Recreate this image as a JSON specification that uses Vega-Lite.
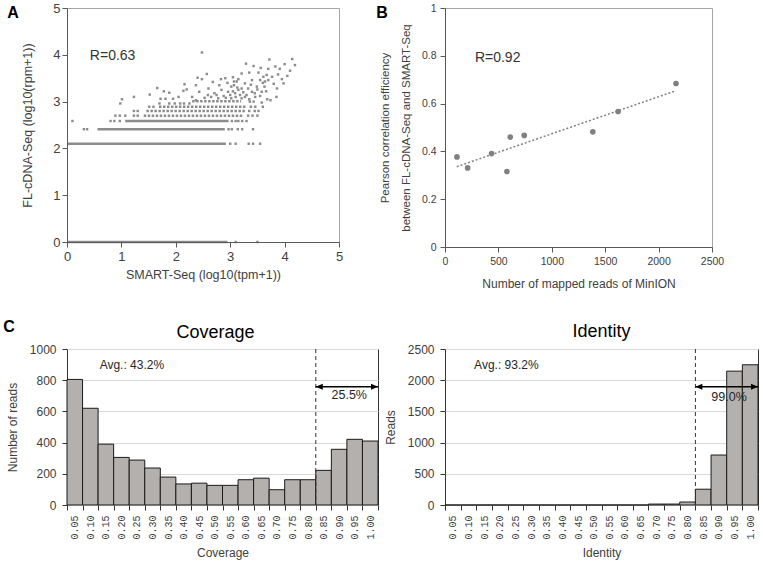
{
  "$schema": "https://vega.github.io/schema/vega-lite/v6.json",
  "padding": {"left": 2, "top": 1, "right": 2, "bottom": 2},
  "background": "white",
  "config": {
    "font": "Liberation Sans",
    "view": {"stroke": null},
    "axis": {"titleFontWeight": "normal", "labelColor": "#404040", "titleColor": "#404040", "domainColor": "#595959", "tickColor": "#595959", "grid": false, "labelFlush": false, "labelOverlap": false},
    "title": {"fontWeight": "normal", "color": "#000000"}
  },
  "datasets": {
    "aRuns": [
      {"x0": 0, "x1": 2.95, "y": 0},
      {"x0": 0, "x1": 2.92, "y": 2.1},
      {"x0": 0.56, "x1": 2.9, "y": 2.41},
      {"x0": 1.07, "x1": 2.97, "y": 2.585}
    ],
    "aDots": [
      {"x0": 1.41, "x1": 3.25, "y": 2.7},
      {"x0": 1.46, "x1": 3.27, "y": 2.8},
      {"x0": 1.69, "x1": 3.3, "y": 2.89},
      {"x0": 2.3, "x1": 3.2, "y": 3.01}
    ],
    "aPts": [
      {"x": 3.1, "y": 0}, {"x": 3.5, "y": 0},
      {"x": 3.0, "y": 2.1}, {"x": 3.1, "y": 2.1}, {"x": 3.34, "y": 2.1}, {"x": 3.42, "y": 2.1}, {"x": 3.55, "y": 2.1},
      {"x": 0.31, "y": 2.41}, {"x": 0.37, "y": 2.41}, {"x": 2.97, "y": 2.41}, {"x": 3.03, "y": 2.41}, {"x": 3.14, "y": 2.41}, {"x": 3.22, "y": 2.41}, {"x": 3.42, "y": 2.41},
      {"x": 0.1, "y": 2.585}, {"x": 0.8, "y": 2.585}, {"x": 0.87, "y": 2.585}, {"x": 0.97, "y": 2.585}, {"x": 3.03, "y": 2.585}, {"x": 3.1, "y": 2.585}, {"x": 3.15, "y": 2.585}, {"x": 3.22, "y": 2.585}, {"x": 3.3, "y": 2.585},
      {"x": 0.89, "y": 2.7}, {"x": 0.97, "y": 2.7}, {"x": 1.07, "y": 2.7}, {"x": 1.23, "y": 2.7}, {"x": 1.3, "y": 2.7}, {"x": 3.33, "y": 2.7}, {"x": 3.41, "y": 2.7},
      {"x": 1.23, "y": 2.8}, {"x": 1.3, "y": 2.8}, {"x": 3.35, "y": 2.8}, {"x": 3.45, "y": 2.8},
      {"x": 1.51, "y": 2.89}, {"x": 1.59, "y": 2.89}, {"x": 3.38, "y": 2.89}, {"x": 3.46, "y": 2.89}, {"x": 3.6, "y": 2.89},
      {"x": 1.7, "y": 2.96}, {"x": 1.88, "y": 2.96}, {"x": 1.98, "y": 2.96}, {"x": 2.08, "y": 2.96}, {"x": 2.15, "y": 2.96}, {"x": 2.25, "y": 2.96},
      {"x": 0.98, "y": 2.96}, {"x": 1.01, "y": 3.05}, {"x": 1.23, "y": 3.1}, {"x": 1.52, "y": 3.15}, {"x": 1.66, "y": 3.29}, {"x": 1.78, "y": 3.22}, {"x": 1.88, "y": 3.19}, {"x": 2.16, "y": 3.37}, {"x": 2.14, "y": 3.23}, {"x": 2.4, "y": 3.51}, {"x": 1.72, "y": 3.06}, {"x": 1.81, "y": 3.06}, {"x": 1.95, "y": 3.06}, {"x": 2.05, "y": 3.1}, {"x": 2.2, "y": 3.26}, {"x": 2.3, "y": 3.1}, {"x": 2.37, "y": 3.35},
      {"x": 2.48, "y": 4.05}, {"x": 2.57, "y": 3.59}, {"x": 2.48, "y": 3.48}, {"x": 2.68, "y": 3.42}, {"x": 2.83, "y": 3.48}, {"x": 2.91, "y": 3.5}, {"x": 3.05, "y": 3.52}, {"x": 3.07, "y": 3.43}, {"x": 3.07, "y": 3.35}, {"x": 3.21, "y": 3.6}, {"x": 3.29, "y": 3.81}, {"x": 3.43, "y": 3.76}, {"x": 3.52, "y": 3.62}, {"x": 3.61, "y": 3.53}, {"x": 3.67, "y": 3.57}, {"x": 3.72, "y": 3.9}, {"x": 3.83, "y": 3.75}, {"x": 3.91, "y": 3.7}, {"x": 4.0, "y": 3.8}, {"x": 4.14, "y": 3.91}, {"x": 4.19, "y": 3.78}, {"x": 4.05, "y": 3.55}, {"x": 3.86, "y": 3.28}, {"x": 3.98, "y": 3.39}, {"x": 3.77, "y": 3.53}, {"x": 3.74, "y": 3.03}, {"x": 3.63, "y": 3.32}, {"x": 3.58, "y": 3.21}, {"x": 3.46, "y": 3.1}, {"x": 3.43, "y": 3.0}, {"x": 3.27, "y": 3.39}, {"x": 3.33, "y": 3.28}, {"x": 3.15, "y": 3.25}, {"x": 3.09, "y": 3.18}, {"x": 2.96, "y": 3.21}, {"x": 2.84, "y": 3.25}, {"x": 2.71, "y": 3.18}, {"x": 2.59, "y": 3.14}, {"x": 2.43, "y": 3.21}, {"x": 2.37, "y": 3.03}, {"x": 2.53, "y": 3.08}, {"x": 2.78, "y": 3.07}, {"x": 3.02, "y": 3.07}, {"x": 3.21, "y": 3.07}, {"x": 3.3, "y": 3.14}, {"x": 3.55, "y": 3.46}, {"x": 3.64, "y": 3.43}, {"x": 3.49, "y": 3.32}, {"x": 3.4, "y": 3.21}, {"x": 3.21, "y": 3.28}, {"x": 3.02, "y": 3.32}, {"x": 3.12, "y": 3.43},
      {"x": 2.65, "y": 3.1}, {"x": 2.75, "y": 3.14}, {"x": 2.88, "y": 3.12}, {"x": 2.92, "y": 3.08}, {"x": 3.0, "y": 3.14}, {"x": 3.05, "y": 3.22}, {"x": 3.1, "y": 3.1}, {"x": 3.13, "y": 3.3}, {"x": 3.18, "y": 3.14}, {"x": 3.24, "y": 3.2}, {"x": 3.27, "y": 3.1}, {"x": 3.35, "y": 3.05}, {"x": 3.38, "y": 3.36}, {"x": 3.45, "y": 3.18}, {"x": 3.5, "y": 3.26}, {"x": 3.55, "y": 3.12}, {"x": 3.6, "y": 3.4}, {"x": 3.66, "y": 3.22}, {"x": 3.7, "y": 3.46}, {"x": 3.8, "y": 3.38}, {"x": 3.88, "y": 3.58}, {"x": 3.95, "y": 3.48}, {"x": 4.1, "y": 3.66}, {"x": 3.7, "y": 3.7}, {"x": 3.56, "y": 3.72}, {"x": 3.35, "y": 3.62}, {"x": 2.95, "y": 3.4}, {"x": 2.8, "y": 3.35}, {"x": 2.6, "y": 3.28}, {"x": 3.15, "y": 3.48}, {"x": 3.4, "y": 3.46}, {"x": 3.52, "y": 2.8}, {"x": 3.5, "y": 2.7}, {"x": 3.36, "y": 3.0}, {"x": 3.58, "y": 2.98}, {"x": 3.68, "y": 3.05}, {"x": 3.85, "y": 3.1}
    ],
    "bPts": [
      {"x": 112, "y": 0.377}, {"x": 212, "y": 0.331}, {"x": 436, "y": 0.391}, {"x": 580, "y": 0.316}, {"x": 611, "y": 0.46}, {"x": 742, "y": 0.467}, {"x": 1384, "y": 0.482}, {"x": 1621, "y": 0.567}, {"x": 2163, "y": 0.684}
    ],
    "bTrend": [{"x": 110, "y": 0.336}, {"x": 2150, "y": 0.652}],
    "cov": [
      {"lo": 0.0, "hi": 0.05, "count": 805}, {"lo": 0.05, "hi": 0.1, "count": 620}, {"lo": 0.1, "hi": 0.15, "count": 390}, {"lo": 0.15, "hi": 0.2, "count": 305},
      {"lo": 0.2, "hi": 0.25, "count": 288}, {"lo": 0.25, "hi": 0.3, "count": 237}, {"lo": 0.3, "hi": 0.35, "count": 179}, {"lo": 0.35, "hi": 0.4, "count": 135},
      {"lo": 0.4, "hi": 0.45, "count": 140}, {"lo": 0.45, "hi": 0.5, "count": 126}, {"lo": 0.5, "hi": 0.55, "count": 126}, {"lo": 0.55, "hi": 0.6, "count": 162},
      {"lo": 0.6, "hi": 0.65, "count": 172}, {"lo": 0.65, "hi": 0.7, "count": 98}, {"lo": 0.7, "hi": 0.75, "count": 162}, {"lo": 0.75, "hi": 0.8, "count": 162},
      {"lo": 0.8, "hi": 0.85, "count": 222}, {"lo": 0.85, "hi": 0.9, "count": 357}, {"lo": 0.9, "hi": 0.95, "count": 421}, {"lo": 0.95, "hi": 1.0, "count": 410}
    ],
    "ident": [
      {"lo": 0.0, "hi": 0.05, "count": 0}, {"lo": 0.05, "hi": 0.1, "count": 0}, {"lo": 0.1, "hi": 0.15, "count": 0}, {"lo": 0.15, "hi": 0.2, "count": 0},
      {"lo": 0.2, "hi": 0.25, "count": 0}, {"lo": 0.25, "hi": 0.3, "count": 0}, {"lo": 0.3, "hi": 0.35, "count": 0}, {"lo": 0.35, "hi": 0.4, "count": 0},
      {"lo": 0.4, "hi": 0.45, "count": 0}, {"lo": 0.45, "hi": 0.5, "count": 0}, {"lo": 0.5, "hi": 0.55, "count": 0}, {"lo": 0.55, "hi": 0.6, "count": 0},
      {"lo": 0.6, "hi": 0.65, "count": 0}, {"lo": 0.65, "hi": 0.7, "count": 15}, {"lo": 0.7, "hi": 0.75, "count": 15}, {"lo": 0.75, "hi": 0.8, "count": 48},
      {"lo": 0.8, "hi": 0.85, "count": 253}, {"lo": 0.85, "hi": 0.9, "count": 801}, {"lo": 0.9, "hi": 0.95, "count": 2145}, {"lo": 0.95, "hi": 1.0, "count": 2247}
    ]
  },
  "bounds": "flush",
  "columns": 2,
  "spacing": {"row": 102, "column": 67},
  "concat": [
    {
      "width": 272, "height": 234,
      "view": {"stroke": "#a6a6a6"},
      "layer": [
        {
          "data": {"name": "aRuns"},
          "mark": {"type": "rule", "strokeWidth": 2.5, "color": "#8c8c8c"},
          "encoding": {
            "x": {"field": "x0", "type": "quantitative", "scale": {"domain": [0, 5], "nice": false},
                  "axis": {"values": [0, 1, 2, 3, 4, 5], "tickCount": 6, "title": "SMART-Seq (log10(tpm+1))", "labelFontSize": 13, "titleFontSize": 12.5, "tickSize": 5, "labelPadding": 3, "titlePadding": 5, "zindex": 1}},
            "x2": {"field": "x1"},
            "y": {"field": "y", "type": "quantitative", "scale": {"domain": [0, 5], "nice": false},
                  "axis": {"values": [0, 1, 2, 3, 4, 5], "tickCount": 6, "title": "FL-cDNA-Seq (log10(rpm+1))", "labelFontSize": 13, "titleFontSize": 12.5, "tickSize": 5, "labelPadding": 2, "titlePadding": 18, "zindex": 1}}
          }
        },
        {
          "data": {"name": "aDots"},
          "mark": {"type": "rule", "strokeWidth": 2.5, "color": "#8c8c8c", "strokeDash": [2.5, 1.5]},
          "encoding": {
            "x": {"field": "x0", "type": "quantitative"},
            "x2": {"field": "x1"},
            "y": {"field": "y", "type": "quantitative"}
          }
        },
        {
          "data": {"name": "aPts"},
          "mark": {"type": "point", "shape": "square", "filled": true, "size": 6, "color": "#8c8c8c", "opacity": 1},
          "encoding": {
            "x": {"field": "x", "type": "quantitative"},
            "y": {"field": "y", "type": "quantitative"}
          }
        },
        {
          "data": {"values": [{}]},
          "mark": {"type": "text", "text": "R=0.63", "align": "left", "baseline": "middle", "fontSize": 14, "color": "#333333"},
          "encoding": {"x": {"datum": 0.42}, "y": {"datum": 3.98}}
        },
        {
          "data": {"values": [{}]},
          "mark": {"type": "text", "text": "A", "align": "center", "baseline": "middle", "fontSize": 16, "fontWeight": "bold", "color": "#000000"},
          "encoding": {"x": {"datum": -0.99}, "y": {"datum": 4.89}}
        }
      ]
    },
    {
      "width": 267, "height": 239,
      "view": {"stroke": "#a6a6a6"},
      "layer": [
        {
          "data": {"name": "bTrend"},
          "mark": {"type": "line", "color": "#808080", "strokeDash": [2, 2], "strokeWidth": 1.5},
          "encoding": {
            "x": {"field": "x", "type": "quantitative", "scale": {"domain": [0, 2500], "nice": false},
                  "axis": {"values": [0, 500, 1000, 1500, 2000, 2500], "tickCount": 6, "format": "d", "title": "Number of mapped reads of MinION", "labelFontSize": 10.5, "titleFontSize": 12, "tickSize": 5, "labelPadding": 4, "titlePadding": 12, "zindex": 1}},
            "y": {"field": "y", "type": "quantitative", "scale": {"domain": [0, 1], "nice": false},
                  "axis": {"values": [0, 0.2, 0.4, 0.6, 0.8, 1], "tickCount": 6, "format": "~g", "title": ["Pearson correlation efficiency", "between  FL-cDNA-Seq  and  SMART-Seq"], "titleLineHeight": 21, "labelFontSize": 10.5, "titleFontSize": 11.5, "tickSize": 5, "labelPadding": 4, "titlePadding": 10, "zindex": 1}}
          }
        },
        {
          "data": {"name": "bPts"},
          "mark": {"type": "circle", "size": 32, "color": "#808080", "opacity": 1},
          "encoding": {
            "x": {"field": "x", "type": "quantitative"},
            "y": {"field": "y", "type": "quantitative"}
          }
        },
        {
          "data": {"values": [{}]},
          "mark": {"type": "text", "text": "R=0.92", "align": "left", "baseline": "middle", "fontSize": 14, "color": "#333333"},
          "encoding": {"x": {"datum": 280}, "y": {"datum": 0.792}}
        },
        {
          "data": {"values": [{}]},
          "mark": {"type": "text", "text": "B", "align": "center", "baseline": "middle", "fontSize": 16, "fontWeight": "bold", "color": "#000000"},
          "encoding": {"x": {"datum": -590}, "y": {"datum": 0.979}}
        }
      ]
    },
    {
      "width": 311, "height": 156,
      "view": {"stroke": "#333333"},
      "title": {"text": "Coverage", "fontSize": 18, "dx": -7, "dy": 31, "offset": 8},
      "resolve": {"axis": {"x": "independent"}},
      "layer": [
        {
          "data": {"name": "cov"},
          "mark": {"type": "bar", "fill": "#b4b0ae", "stroke": "#1a1a1a", "strokeWidth": 1},
          "encoding": {
            "x": {"field": "lo", "type": "quantitative", "scale": {"domain": [0, 1], "nice": false, "zero": false},
                  "axis": {"orient": "bottom", "values": [0.025, 0.075, 0.125, 0.175, 0.225, 0.275, 0.325, 0.375, 0.425, 0.475, 0.525, 0.575, 0.625, 0.675, 0.725, 0.775, 0.825, 0.875, 0.925, 0.975], "tickCount": 21,
                           "labelExpr": "format(datum.value + 0.025, '.2f')", "labelAngle": 270, "labelFont": "Liberation Mono", "labelFontSize": 10, "ticks": false, "domain": false, "labelPadding": 10,
                           "title": "Coverage", "titleFontSize": 12, "titlePadding": 8}},
            "x2": {"field": "hi"},
            "y": {"field": "count", "type": "quantitative", "scale": {"domain": [0, 1000], "nice": false},
                  "axis": {"values": [0, 200, 400, 600, 800, 1000], "tickCount": 6, "format": "d", "grid": true, "gridColor": "#d9d9d9", "domain": false, "tickSize": 5, "tickColor": "#333333", "labelFontSize": 12, "labelPadding": 6, "title": "Number of reads", "titleFontSize": 12, "titlePadding": 10}},
            "y2": {"datum": 0}
          }
        },
        {
          "data": {"values": [{}]},
          "mark": {"type": "rule", "color": "#333333", "strokeDash": [4, 3], "strokeWidth": 1},
          "encoding": {"x": {"datum": 0.8, "axis": {"orient": "bottom", "values": [0, 0.05, 0.1, 0.15, 0.2, 0.25, 0.3, 0.35, 0.4, 0.45, 0.5, 0.55, 0.6, 0.65, 0.7, 0.75, 0.8, 0.85, 0.9, 0.95, 1], "tickCount": 22, "labels": false, "ticks": true, "tickSize": 5, "tickColor": "#333333", "domain": false, "title": null}}}
        },
        {
          "data": {"values": [{}]},
          "mark": {"type": "rule", "color": "#000000", "strokeWidth": 1.5},
          "encoding": {"x": {"datum": 0.8, "axis": null}, "x2": {"datum": 1.0}, "y": {"datum": 758}}
        },
        {
          "data": {"values": [{}]},
          "mark": {"type": "point", "shape": "M0,0L2,-0.85L2,0.85Z", "filled": true, "size": 49, "color": "#000000", "opacity": 1},
          "encoding": {"x": {"datum": 0.8, "axis": null}, "y": {"datum": 758}}
        },
        {
          "data": {"values": [{}]},
          "mark": {"type": "point", "shape": "M0,0L-2,-0.85L-2,0.85Z", "filled": true, "size": 49, "color": "#000000", "opacity": 1},
          "encoding": {"x": {"datum": 1.0, "axis": null}, "y": {"datum": 758}}
        },
        {
          "data": {"values": [{}]},
          "mark": {"type": "text", "text": "Avg.: 43.2%", "align": "left", "baseline": "middle", "fontSize": 12, "color": "#262626"},
          "encoding": {"x": {"datum": 0.105, "axis": null}, "y": {"datum": 900}}
        },
        {
          "data": {"values": [{}]},
          "mark": {"type": "text", "text": "25.5%", "align": "center", "baseline": "middle", "fontSize": 12.5, "color": "#262626"},
          "encoding": {"x": {"datum": 0.9075, "axis": null}, "y": {"datum": 703}}
        },
        {
          "data": {"values": [{}]},
          "mark": {"type": "text", "text": "C", "align": "center", "baseline": "middle", "fontSize": 16, "fontWeight": "bold", "color": "#000000"},
          "encoding": {"x": {"datum": -0.186, "axis": null}, "y": {"datum": 1141}}
        }
      ]
    },
    {
      "width": 313, "height": 156,
      "view": {"stroke": "#333333"},
      "title": {"text": "Identity", "fontSize": 18, "dy": 6, "offset": 8},
      "resolve": {"axis": {"x": "independent"}},
      "layer": [
        {
          "data": {"name": "ident"},
          "mark": {"type": "bar", "fill": "#b4b0ae", "stroke": "#1a1a1a", "strokeWidth": 1},
          "encoding": {
            "x": {"field": "lo", "type": "quantitative", "scale": {"domain": [0, 1], "nice": false, "zero": false},
                  "axis": {"orient": "bottom", "values": [0.025, 0.075, 0.125, 0.175, 0.225, 0.275, 0.325, 0.375, 0.425, 0.475, 0.525, 0.575, 0.625, 0.675, 0.725, 0.775, 0.825, 0.875, 0.925, 0.975], "tickCount": 21,
                           "labelExpr": "format(datum.value + 0.025, '.2f')", "labelAngle": 270, "labelFont": "Liberation Mono", "labelFontSize": 10, "ticks": false, "domain": false, "labelPadding": 10,
                           "title": "Identity", "titleFontSize": 12, "titlePadding": 8}},
            "x2": {"field": "hi"},
            "y": {"field": "count", "type": "quantitative", "scale": {"domain": [0, 2500], "nice": false},
                  "axis": {"values": [0, 500, 1000, 1500, 2000, 2500], "tickCount": 6, "format": "d", "grid": true, "gridColor": "#d9d9d9", "domain": false, "tickSize": 5, "tickColor": "#333333", "labelFontSize": 12, "labelPadding": 6, "title": "Reads", "titleFontSize": 12, "titlePadding": 10}},
            "y2": {"datum": 0}
          }
        },
        {
          "data": {"values": [{}]},
          "mark": {"type": "rule", "color": "#333333", "strokeDash": [4, 3], "strokeWidth": 1},
          "encoding": {"x": {"datum": 0.8, "axis": {"orient": "bottom", "values": [0, 0.05, 0.1, 0.15, 0.2, 0.25, 0.3, 0.35, 0.4, 0.45, 0.5, 0.55, 0.6, 0.65, 0.7, 0.75, 0.8, 0.85, 0.9, 0.95, 1], "tickCount": 22, "labels": false, "ticks": true, "tickSize": 5, "tickColor": "#333333", "domain": false, "title": null}}}
        },
        {
          "data": {"values": [{}]},
          "mark": {"type": "rule", "color": "#000000", "strokeWidth": 1.5},
          "encoding": {"x": {"datum": 0.8, "axis": null}, "x2": {"datum": 1.0}, "y": {"datum": 1895}}
        },
        {
          "data": {"values": [{}]},
          "mark": {"type": "point", "shape": "M0,0L2,-0.85L2,0.85Z", "filled": true, "size": 49, "color": "#000000", "opacity": 1},
          "encoding": {"x": {"datum": 0.8, "axis": null}, "y": {"datum": 1895}}
        },
        {
          "data": {"values": [{}]},
          "mark": {"type": "point", "shape": "M0,0L-2,-0.85L-2,0.85Z", "filled": true, "size": 49, "color": "#000000", "opacity": 1},
          "encoding": {"x": {"datum": 1.0, "axis": null}, "y": {"datum": 1895}}
        },
        {
          "data": {"values": [{}]},
          "mark": {"type": "text", "text": "Avg.: 93.2%", "align": "left", "baseline": "middle", "fontSize": 12, "color": "#262626"},
          "encoding": {"x": {"datum": 0.093, "axis": null}, "y": {"datum": 2240}}
        },
        {
          "data": {"values": [{}]},
          "mark": {"type": "text", "text": "99.0%", "align": "center", "baseline": "middle", "fontSize": 12.5, "color": "#262626"},
          "encoding": {"x": {"datum": 0.9075, "axis": null}, "y": {"datum": 1735}}
        }
      ]
    }
  ]
}
